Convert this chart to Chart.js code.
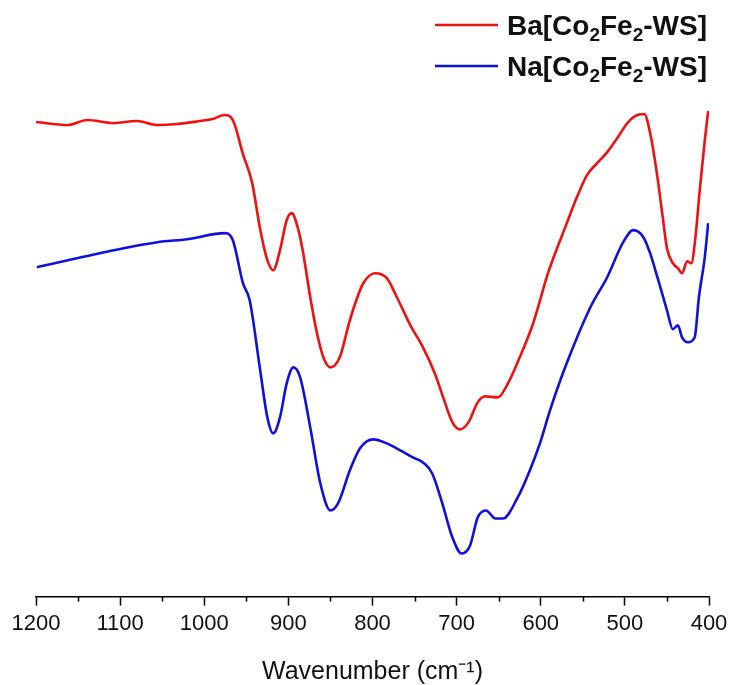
<!DOCTYPE html>
<html>
<head>
<meta charset="utf-8">
<title>FTIR</title>
<script src="https://cdn.jsdelivr.net/npm/chart.js@4"></script>
<style>
  body { margin: 0; background: #fff; }
  #ftir { display: block; }
</style>
</head>
<body>
<canvas id="ftir" width="733" height="685"></canvas>
<script>
// Ba[Co2Fe2-WS] spectrum: wavenumber (cm-1) and transmittance (a.u.)
const baWn = [1200, 1162, 1139, 1108, 1080, 1056, 1032, 1005, 990, 976, 966, 954, 943, 934, 925, 918, 910, 902, 896, 889, 883, 874, 866, 858, 850, 839, 827, 818, 811, 797, 783, 771, 755, 740, 726, 716, 705, 696, 686, 675, 666, 651, 639, 625, 609, 591, 569, 557, 545, 533, 521, 509, 497, 488, 477, 470, 462, 455, 450, 443, 437, 432, 426, 421, 416, 411, 405, 401];
const baT  = [94.8, 94.2, 95.2, 94.6, 95.0, 94.2, 94.4, 95.0, 95.4, 96.2, 95.2, 88.4, 82.6, 73.8, 67.2, 65.2, 69.2, 75.2, 76.6, 73.8, 69.2, 59.8, 52.6, 47.6, 45.8, 47.8, 55.2, 59.8, 62.6, 64.6, 63.6, 59.8, 54.2, 49.8, 44.6, 39.8, 34.8, 33.4, 34.8, 38.8, 40.0, 39.8, 42.6, 47.8, 54.6, 64.8, 74.6, 79.8, 84.2, 86.6, 88.8, 91.6, 94.6, 96.0, 96.4, 92.6, 84.6, 75.8, 69.6, 66.6, 65.6, 64.6, 67.0, 66.6, 72.0, 81.2, 91.2, 97.0];

// Na[Co2Fe2-WS] spectrum
const naWn = [1199, 1124, 1056, 1020, 975, 966, 954, 946, 934, 925, 918, 910, 902, 894, 886, 874, 862, 850, 841, 827, 815, 799, 783, 767, 752, 740, 729, 717, 705, 694, 684, 675, 665, 654, 645, 628, 613, 601, 589, 571, 541, 521, 502, 490, 478, 470, 461, 450, 443, 437, 432, 425, 417, 412, 405, 401];
const naT  = [65.8, 68.6, 70.8, 71.4, 72.6, 71.2, 62.6, 59.2, 45.8, 35.8, 32.6, 35.8, 42.6, 45.8, 43.8, 33.8, 22.6, 17.2, 18.6, 25.2, 29.6, 31.4, 30.6, 29.2, 27.8, 26.8, 24.6, 18.6, 11.8, 8.6, 10.2, 15.8, 17.2, 15.6, 15.6, 19.6, 25.2, 30.6, 37.2, 45.8, 57.8, 63.8, 70.8, 73.2, 71.8, 68.6, 63.6, 57.2, 53.4, 54.2, 51.8, 50.8, 51.8, 59.8, 67.8, 74.6];

const seriesNames = ["Ba[Co_2Fe_2-WS]", "Na[Co_2Fe_2-WS]"];
const seriesColors = ["#f01010", "#1010dc"];
const minorTicks = [1150, 1050, 950, 850, 750, 650, 550, 450];

const fontFamily = "'Liberation Sans', Arial, sans-serif";

function toPoints(xs, ys) {
  return xs.map((x, i) => ({ x: x, y: ys[i] }));
}

// short unlabeled ticks halfway between the numbered ones
const minorTickPlugin = {
  id: 'minorTicks',
  afterDraw(chart) {
    const ctx = chart.ctx;
    const xs = chart.scales.x;
    const y0 = chart.chartArea.bottom;
    ctx.save();
    ctx.strokeStyle = '#000';
    ctx.lineWidth = 1.5;
    minorTicks.forEach(v => {
      const px = Math.round(xs.getPixelForValue(v)) + 0.5;
      ctx.beginPath();
      ctx.moveTo(px, y0);
      ctx.lineTo(px, y0 + 5);
      ctx.stroke();
    });
    ctx.restore();
  }
};

// legend with subscripts, stacked at the top right
const stackedLegend = {
  id: 'stackedLegend',
  afterDraw(chart) {
    const ctx = chart.ctx;
    const rows = [25, 66];
    ctx.save();
    chart.data.datasets.forEach((ds, i) => {
      const y = rows[i];
      ctx.strokeStyle = ds.borderColor;
      ctx.lineWidth = 2.5;
      ctx.beginPath();
      ctx.moveTo(435, y);
      ctx.lineTo(498, y);
      ctx.stroke();

      // "_2" marks a subscript digit
      let x = 507;
      ctx.fillStyle = '#111';
      ctx.textBaseline = 'alphabetic';
      const parts = seriesNames[i].split(/(_\d)/);
      parts.forEach(p => {
        if (!p) return;
        if (p[0] === '_') {
          ctx.font = 'bold 19px ' + fontFamily;
          ctx.fillText(p.slice(1), x, y + 16);
          x += ctx.measureText(p.slice(1)).width;
        } else {
          ctx.font = 'bold 28px ' + fontFamily;
          ctx.fillText(p, x, y + 10);
          x += ctx.measureText(p).width;
        }
      });
    });
    ctx.restore();
  }
};

const data = {
  datasets: [
    {
      label: 'Ba[Co₂Fe₂-WS]',
      data: toPoints(baWn, baT),
      borderColor: seriesColors[0],
      borderWidth: 2.6,
      pointRadius: 0,
      cubicInterpolationMode: 'monotone'
    },
    {
      label: 'Na[Co₂Fe₂-WS]',
      data: toPoints(naWn, naT),
      borderColor: seriesColors[1],
      borderWidth: 2.6,
      pointRadius: 0,
      cubicInterpolationMode: 'monotone'
    }
  ]
};

const config = {
  type: 'line',
  data,
  options: {
    responsive: false,
    animation: false,
    layout: { padding: { top: 96, left: 36, right: 24, bottom: 0 } },
    plugins: {
      legend: { display: false },
      tooltip: { enabled: false }
    },
    scales: {
      x: {
        type: 'linear',
        reverse: true,
        min: 400,
        max: 1200,
        border: { display: true, color: '#000', width: 1.5 },
        grid: {
          drawOnChartArea: false,
          tickLength: 9,
          tickColor: '#000',
          tickWidth: 1.5
        },
        ticks: {
          stepSize: 100,
          padding: 5,
          color: '#111',
          maxRotation: 0,
          font: { family: fontFamily, size: 22 },
          callback: v => String(v)
        },
        title: {
          display: true,
          text: 'Wavenumber (cm⁻¹)',
          color: '#111',
          padding: { top: 18, bottom: 0 },
          font: { family: fontFamily, size: 25, lineHeight: 1.0 }
        }
      },
      y: {
        display: false,
        min: 0,
        max: 100
      }
    }
  },
  plugins: [minorTickPlugin, stackedLegend]
};

new Chart(document.getElementById('ftir'), config);
</script>
</body>
</html>
